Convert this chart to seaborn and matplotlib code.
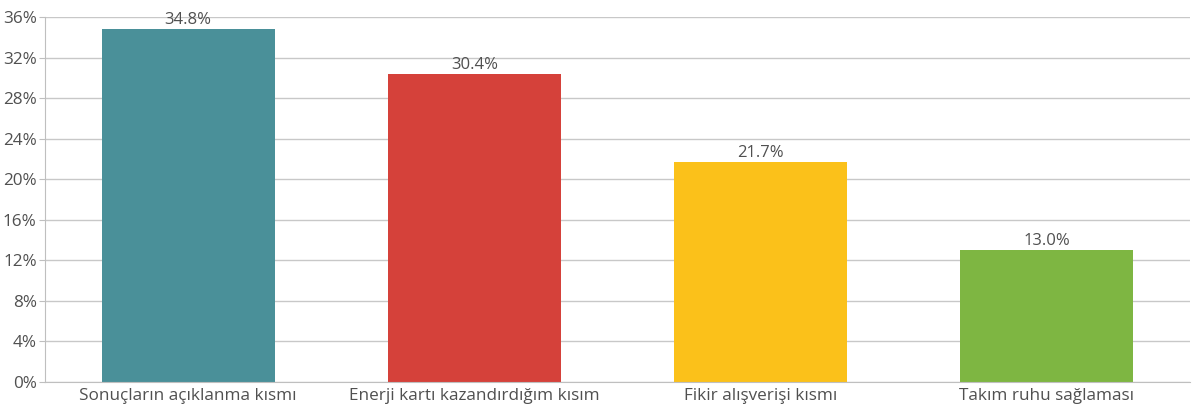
import matplotlib
matplotlib.use("Agg")
import matplotlib.pyplot as plt
import seaborn as sns
import pandas as pd
from matplotlib.ticker import FuncFormatter

categories = ["Sonuçların açıklanma kısmı", "Enerji kartı kazandırdığım kısım",
              "Fikir alışverişi kısmı", "Takım ruhu sağlaması"]
values = [34.8, 30.4, 21.7, 13.0]
colors = ["#4A9099", "#D5413A", "#FBC11A", "#7EB642"]
yticks = [0, 4, 8, 12, 16, 20, 24, 28, 32, 36]

sns.set_style("white")
plt.rcParams['font.family'] = ['Open Sans', 'DejaVu Sans']

df = pd.DataFrame({'cat': categories, 'val': values})

fig = plt.figure(figsize=(11.98, 4.12), dpi=100)
ax = fig.add_axes([0.0376, 0.0728, 0.9554, 0.886])

sns.barplot(data=df, x='cat', y='val', hue='cat', palette=colors,
            width=0.605, legend=False, ax=ax, saturation=1, linewidth=0)

for p, v in zip(ax.patches, values):
    ax.text(p.get_x() + p.get_width() / 2, v + 0.1, f"{v:.1f}%",
            ha='center', va='bottom', fontsize=12, color='#505050')

ax.set_ylim(0, 36)
ax.set_xlim(-0.5, 3.5)
ax.set_yticks(yticks)
ax.yaxis.set_major_formatter(FuncFormatter(lambda y, _: f"{int(y)}%"))
ax.grid(axis='y', color='#C8C8C8', linewidth=1)
ax.set_axisbelow(True)
ax.set_xlabel("")
ax.set_ylabel("")
for s in ['top', 'right']:
    ax.spines[s].set_visible(False)
ax.spines['left'].set_color('#BFBFBF')
ax.spines['bottom'].set_color('#BFBFBF')
ax.tick_params(axis='y', labelsize=12.3, labelcolor='#505050', length=4,
               color='#BFBFBF', pad=2, left=True)
ax.tick_params(axis='x', labelsize=12.3, labelcolor='#505050', length=0, pad=4)

fig.savefig("out.png", dpi=100)
